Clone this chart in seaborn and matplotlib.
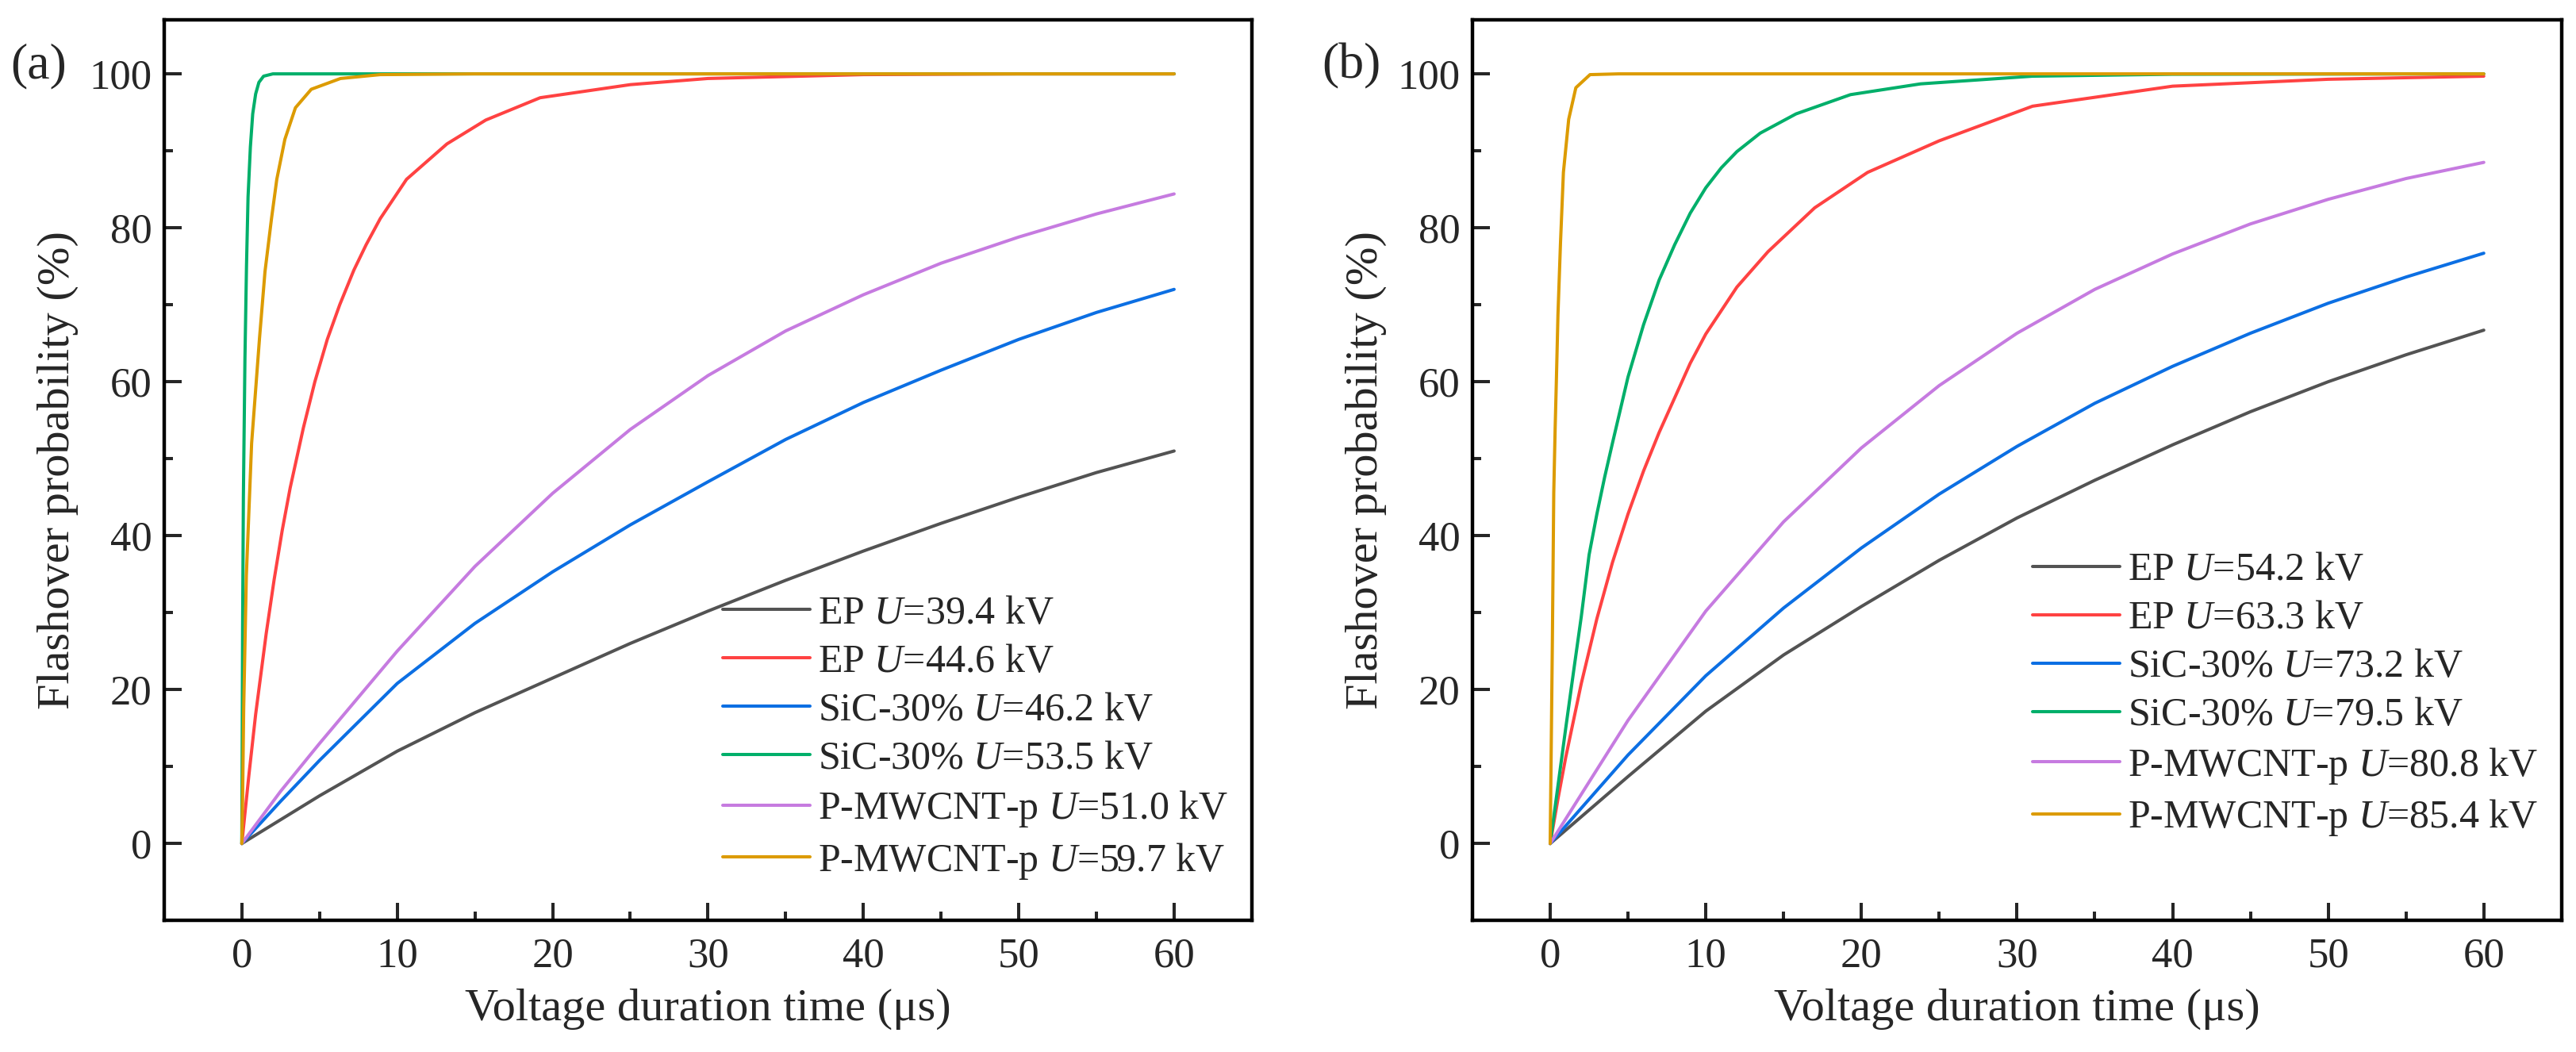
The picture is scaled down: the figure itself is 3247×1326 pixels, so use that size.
import pandas as pd
import matplotlib
matplotlib.use("Agg")
import matplotlib.pyplot as plt
from matplotlib.ticker import MultipleLocator
import seaborn as sns

sns.set_theme(style="ticks")
plt.rcParams['font.family'] = ['Liberation Serif', 'DejaVu Serif']
plt.rcParams['mathtext.fontset'] = 'custom'
plt.rcParams['mathtext.rm'] = 'Liberation Serif'
plt.rcParams['mathtext.it'] = 'Liberation Serif:italic'

# ---- panel (a): values ----
a_ep1_t = [0, 5, 10, 15, 20, 25, 30, 35, 40, 45, 50, 55, 60]
a_ep1_p = [0, 6.2, 12.0, 17.0, 21.5, 26.0, 30.2, 34.2, 38.0, 41.6, 45.0, 48.2, 51.0]

a_ep2_t = [0, 0.45, 0.89, 1.57, 2.08, 2.6, 3.11, 3.96, 4.7, 5.5, 6.3, 7.21, 8.0, 8.91, 10.6,
           13.2, 15.7, 19.2, 25, 30, 40, 50, 60]
a_ep2_p = [0, 8.8, 16.8, 27.3, 34.3, 40.7, 46.2, 54.0, 60.0, 65.5, 70.0, 74.5, 77.8, 81.2, 86.3,
           90.9, 94.0, 96.9, 98.6, 99.4, 99.9, 100, 100]

a_sic1_t = [0, 2.5, 5, 10, 15, 20, 25, 30, 35, 40, 45, 50, 55, 60]
a_sic1_p = [0, 5.5, 10.8, 20.8, 28.6, 35.3, 41.4, 47.0, 52.5, 57.3, 61.5, 65.5, 69.0, 72.0]

a_sic2_t = [0, 0.05, 0.1, 0.2, 0.3, 0.4, 0.55, 0.7, 0.89, 1.1, 1.4, 2.0, 10, 30, 60]
a_sic2_p = [0, 28.0, 45.0, 63.0, 75.0, 84.0, 90.5, 94.8, 97.4, 98.9, 99.7, 100, 100, 100, 100]

a_cnt1_t = [0, 2.5, 5, 10, 15, 20, 25, 30, 35, 40, 45, 50, 55, 60]
a_cnt1_p = [0, 6.8, 13.0, 25.0, 36.0, 45.5, 53.8, 60.8, 66.6, 71.3, 75.4, 78.8, 81.8, 84.4]

a_cnt2_t = [0, 0.05, 0.12, 0.29, 0.63, 1.14, 1.49, 1.91, 2.25, 2.77, 3.45, 4.47, 6.35, 8.9, 15, 30, 60]
a_cnt2_p = [0, 6.0, 17.6, 34.8, 52.0, 65.7, 74.3, 81.2, 86.3, 91.5, 95.6, 98.0, 99.4, 99.9, 100, 100, 100]

a_labels = ['EP $U$=39.4 kV', 'EP $U$=44.6 kV', 'SiC-30% $U$=46.2 kV',
            'SiC-30% $U$=53.5 kV', 'P-MWCNT-p $U$=51.0 kV', 'P-MWCNT-p $U$=59.7 kV']

# ---- panel (b) ----
b_ep1_t = [0, 5, 10, 15, 20, 25, 30, 35, 40, 45, 50, 55, 60]
b_ep1_p = [0, 8.7, 17.2, 24.5, 30.8, 36.8, 42.3, 47.2, 51.8, 56.1, 60.0, 63.5, 66.7]

b_ep2_t = [0, 0.5, 1, 2, 3, 4, 5, 6, 7, 8, 9, 10, 12, 14, 17, 20.4, 25, 31, 40, 50, 60]
b_ep2_p = [0, 5.8, 11.2, 20.8, 29.2, 36.5, 42.8, 48.4, 53.4, 57.9, 62.4, 66.2, 72.3, 76.9, 82.6,
           87.2, 91.3, 95.8, 98.4, 99.3, 99.7]

b_sic1_t = [0, 5, 10, 15, 20, 25, 30, 35, 40, 45, 50, 55, 60]
b_sic1_p = [0, 11.5, 21.8, 30.6, 38.4, 45.4, 51.6, 57.2, 62.0, 66.3, 70.2, 73.6, 76.7]

b_sic2_t = [0, 0.5, 1, 1.5, 2, 2.5, 3, 3.5, 4, 5, 6, 7, 8, 9, 10, 11, 12, 13.5, 15.8, 19.3,
            23.8, 31, 40, 60]
b_sic2_p = [0, 7.5, 15.0, 22.3, 29.5, 37.5, 42.8, 47.6, 52.0, 60.6, 67.4, 73.2, 77.8, 81.9, 85.2,
            87.8, 89.9, 92.3, 94.8, 97.3, 98.7, 99.7, 99.95, 100]

b_cnt1_t = [0, 2.5, 5, 10, 15, 20, 25, 30, 35, 40, 45, 50, 55, 60]
b_cnt1_p = [0, 8.0, 16.0, 30.2, 41.8, 51.4, 59.5, 66.3, 72.0, 76.6, 80.5, 83.7, 86.4, 88.5]

b_cnt2_t = [0, 0.07, 0.14, 0.23, 0.32, 0.39, 0.5, 0.66, 0.85, 1.19, 1.65, 2.56, 4.4, 10, 30, 60]
b_cnt2_p = [0, 13.0, 26.2, 45.6, 54.0, 59.5, 68.7, 77.9, 87.2, 94.1, 98.2, 99.9, 100, 100, 100, 100]

b_labels = ['EP $U$=54.2 kV', 'EP $U$=63.3 kV', 'SiC-30% $U$=73.2 kV',
            'SiC-30% $U$=79.5 kV', 'P-MWCNT-p $U$=80.8 kV', 'P-MWCNT-p $U$=85.4 kV']

line_colors = ['#535353', '#FF4242', '#0C6FE3', '#00AF6A', '#C67BE0', '#DC9B00']


def make_frame(labels, curves):
    parts = []
    for lab, (t, p) in zip(labels, curves):
        parts.append(pd.DataFrame({'time': t, 'prob': p, 'sample': lab}))
    return pd.concat(parts, ignore_index=True)


df_a = make_frame(a_labels, [(a_ep1_t, a_ep1_p), (a_ep2_t, a_ep2_p), (a_sic1_t, a_sic1_p),
                             (a_sic2_t, a_sic2_p), (a_cnt1_t, a_cnt1_p), (a_cnt2_t, a_cnt2_p)])
df_b = make_frame(b_labels, [(b_ep1_t, b_ep1_p), (b_ep2_t, b_ep2_p), (b_sic1_t, b_sic1_p),
                             (b_sic2_t, b_sic2_p), (b_cnt1_t, b_cnt1_p), (b_cnt2_t, b_cnt2_p)])

fig = plt.figure(figsize=(32.48, 13.26), dpi=100)
ax_a = fig.add_axes([0.0637, 0.125, 0.4221, 0.856])
ax_b = fig.add_axes([0.5714, 0.125, 0.4227, 0.856])

panels = [(ax_a, df_a, a_labels, '(a)', 0.004, (1.0, 0.017)),
          (ax_b, df_b, b_labels, '(b)', 0.513, (1.0, 0.065))]

for ax, df, labels, tag, tag_x, leg_anchor in panels:
    sns.lineplot(data=df, x='time', y='prob', hue='sample', hue_order=labels,
                 palette=line_colors, sort=False, estimator=None,
                 linewidth=2.9, ax=ax)
    ax.set_xlim(-5, 65)
    ax.set_ylim(-10, 107)
    ax.xaxis.set_major_locator(MultipleLocator(10))
    ax.xaxis.set_minor_locator(MultipleLocator(5))
    ax.yaxis.set_major_locator(MultipleLocator(20))
    ax.yaxis.set_minor_locator(MultipleLocator(10))
    ax.tick_params(which='both', direction='in', width=2.9, top=False, right=False, labelsize=38)
    ax.tick_params(which='major', length=16)
    ax.tick_params(which='minor', length=8)
    ax.tick_params(axis='y', pad=11)
    ax.tick_params(axis='x', pad=15)
    for sp in ax.spines.values():
        sp.set_linewidth(3.2)
        sp.set_color('black')
    ax.set_xlabel('Voltage duration time (μs)', fontsize=42, labelpad=12)
    ax.set_ylabel('Flashover probability (%)', fontsize=42, labelpad=10)

    handles, labs = ax.get_legend_handles_labels()
    ax.legend(handles, labs, loc='lower right', bbox_to_anchor=leg_anchor, frameon=False,
              fontsize=36, handlelength=2.2, handletextpad=0.2, labelspacing=0.29,
              borderaxespad=0.2)
    fig.text(tag_x, 0.937, tag, fontsize=46, va='center', ha='left')

fig.savefig('out.png', dpi=100)
